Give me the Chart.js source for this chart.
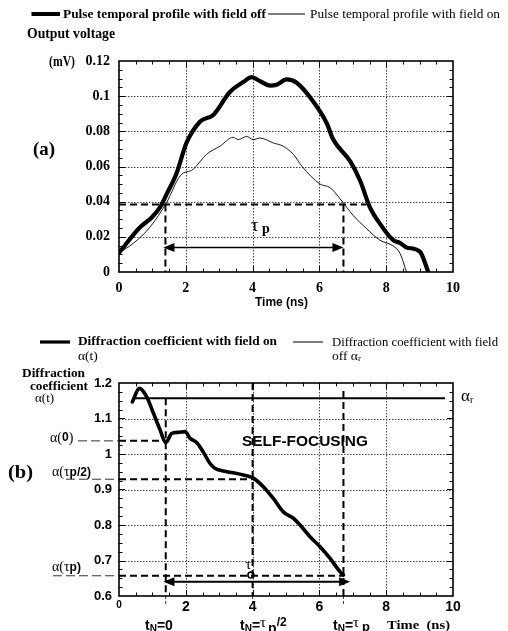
<!DOCTYPE html>
<html>
<head>
<meta charset="utf-8">
<script src="https://cdn.jsdelivr.net/npm/chart.js@4.4.1/dist/chart.umd.min.js"></script>
<style>
  html,body{margin:0;padding:0;background:#fff;}
  #wrap{position:relative;width:508px;height:631px;overflow:hidden;}
  canvas{position:absolute;left:0;}
</style>
</head>
<body>
<div id="wrap">
  <canvas id="cA" width="508" height="315" style="top:0"></canvas>
  <canvas id="cB" width="508" height="316" style="top:315px"></canvas>
</div>
<script>
// ---------------- DATA ----------------
// (a) Output voltage (mV) vs time (ns)
const timeFieldOff = [0,0.63,0.98,1.23,1.43,1.73,2.02,2.43,2.82,3.32,3.72,3.97,4.22,4.52,4.72,5.02,5.32,5.82,6.22,6.41,6.92,7.22,7.51,7.81,8.21,8.41,8.61,9.01,9.26];
const voltFieldOff = [0.011,0.0254,0.031,0.0369,0.0444,0.0565,0.0734,0.0856,0.0893,0.1024,0.108,0.1108,0.1086,0.106,0.1065,0.1095,0.1076,0.0968,0.0846,0.0755,0.063,0.0519,0.0369,0.0275,0.0181,0.0166,0.014,0.0116,0];
const timeFieldOn = [0,0.43,0.93,1.43,1.83,2.22,2.62,3.02,3.42,3.57,3.82,4.02,4.22,4.62,4.92,5.22,5.47,6.02,6.32,6.62,7.01,7.41,7.81,8.21,8.41,8.61];
const voltFieldOn = [0.011,0.0163,0.0256,0.0397,0.0547,0.0584,0.0669,0.0715,0.0766,0.0753,0.0771,0.0753,0.0762,0.0734,0.0715,0.0669,0.0603,0.05,0.048,0.0416,0.0322,0.0247,0.0181,0.0148,0.0107,0];
const pulseLevel = 0.0384;          // half-level dashed line
const pulseStart = 1.39, pulseEnd = 6.72, pulseLevelEnd = 7.41;
const pulseArrowLevel = 0.014;
const xTicksA = [0,2,4,6,8,10];
const yTicksA = [0,0.02,0.04,0.06,0.08,0.1,0.12];

// (b) Diffraction coefficient vs time (ns)
const timeAlpha = [0.40,0.61,0.83,1.03,1.23,1.40,1.58,1.78,1.98,2.13,2.33,2.52,2.72,2.87,3.12,3.42,3.72,3.92,4.02,4.32,4.62,4.92,5.22,5.42,5.72,6.02,6.32,6.62,6.72];
const alphaOn = [1.147,1.185,1.161,1.115,1.068,1.032,1.058,1.061,1.063,1.044,1.032,1.006,0.974,0.960,0.952,0.947,0.941,0.936,0.932,0.908,0.875,0.837,0.819,0.80,0.767,0.739,0.706,0.668,0.659];
const timeAlphaR = [0.43,9.76];
const alphaR = [1.157,1.157];
const tN0 = 1.40, tNhalf = 4.0, tNp = 6.72;
const alpha0 = 1.037, alphaHalf = 0.929, alphaP = 0.657;
const arrowB = {from:1.33, to:6.92, level:0.640};
const xTicksB = [0,2,4,6,8,10];
const yTicksB = [0.6,0.7,0.8,0.9,1,1.1,1.2];

// ---------------- HELPERS ----------------
const SERIF = '"Liberation Serif","Times New Roman",serif';
const SANS = '"Liberation Sans",Arial,sans-serif';
const pts = (xs, ys) => xs.map((x,i)=>({x, y:ys[i]}));

function txt(ctx, s, x, y, font, align, w) {
  ctx.save();
  ctx.font = font; ctx.fillStyle = '#000';
  ctx.textBaseline = 'middle'; ctx.textAlign = align || 'left';
  if (w) {
    const m = ctx.measureText(s).width;
    ctx.translate(x, y); ctx.scale(w/m, 1); ctx.fillText(s, 0, 0);
  } else ctx.fillText(s, x, y);
  ctx.restore();
}
function seq(ctx, x, y, parts) {
  ctx.save(); ctx.fillStyle='#000'; ctx.textBaseline='middle'; ctx.textAlign='left';
  let cx = x;
  for (const p of parts) { ctx.font = p.f; ctx.fillText(p.s, cx, y + (p.dy||0)); cx += ctx.measureText(p.s).width + (p.gap||0); }
  ctx.restore();
}
function line(ctx, x1, y1, x2, y2, w, dash) {
  ctx.save(); ctx.strokeStyle='#000'; ctx.lineWidth=w; ctx.setLineDash(dash||[]);
  ctx.beginPath(); ctx.moveTo(x1,y1); ctx.lineTo(x2,y2); ctx.stroke(); ctx.restore();
}
function arrowHead(ctx, x, y, dir) { // dir: +1 pointing right, -1 pointing left
  ctx.save(); ctx.fillStyle='#000'; ctx.beginPath();
  ctx.moveTo(x, y); ctx.lineTo(x - dir*11, y-4.5); ctx.lineTo(x - dir*11, y+4.5); ctx.closePath(); ctx.fill(); ctx.restore();
}
function frameAndGrid(chart, xMinor, yMinor) {
  const {ctx, chartArea:a, scales:{x, y}} = chart;
  ctx.save();
  // dotted grid
  ctx.strokeStyle = '#444'; ctx.lineWidth = 1; ctx.setLineDash([1.5,1.5]);
  x.ticks.forEach(t => { const px = Math.round(x.getPixelForValue(t.value))+0.5;
    if (px > a.left+2 && px < a.right-2) { ctx.beginPath(); ctx.moveTo(px,a.top); ctx.lineTo(px,a.bottom); ctx.stroke(); } });
  y.ticks.forEach(t => { const py = Math.round(y.getPixelForValue(t.value))+0.5;
    if (py > a.top+2 && py < a.bottom-2) { ctx.beginPath(); ctx.moveTo(a.left,py); ctx.lineTo(a.right,py); ctx.stroke(); } });
  ctx.setLineDash([]);
  // tick marks on all four sides (inward)
  ctx.strokeStyle = '#000'; ctx.lineWidth = 1;
  const nx = Math.round((x.max - x.min)/xMinor);
  for (let i=1;i<nx;i++) {
    const v = x.min + i*xMinor; const px = Math.round(x.getPixelForValue(v))+0.5;
    const L = (Math.abs(v/2 - Math.round(v/2))<1e-6) ? 6 : 3.5;
    ctx.beginPath(); ctx.moveTo(px,a.bottom); ctx.lineTo(px,a.bottom-L); ctx.moveTo(px,a.top); ctx.lineTo(px,a.top+L); ctx.stroke();
  }
  const ny = Math.round((y.max - y.min)/yMinor);
  for (let i=1;i<ny;i++) {
    const v = y.min + i*yMinor; const py = Math.round(y.getPixelForValue(v))+0.5;
    const L = (i % 4 === 0) ? 6 : 3.5;
    ctx.beginPath(); ctx.moveTo(a.left,py); ctx.lineTo(a.left+L,py); ctx.moveTo(a.right,py); ctx.lineTo(a.right-L,py); ctx.stroke();
  }
  // frame
  ctx.lineWidth = 1.6; ctx.strokeStyle = '#000';
  ctx.strokeRect(a.left, a.top, a.right-a.left, a.bottom-a.top);
  ctx.restore();
}

const baseOpts = (padTop, xHeight, yTickFont, xTickFont, yMin, yMax, yStep, yPad, xPad, fmt) => ({
  responsive:false, animation:false, devicePixelRatio:1,
  layout:{padding:{top:padTop, right:55, left:0, bottom:0}},
  plugins:{legend:{display:false}, tooltip:{enabled:false}},
  elements:{point:{radius:0}},
  scales:{
    x:{type:'linear', min:0, max:10,
       ticks:{stepSize:2, color:'#000', font:xTickFont, padding:xPad, maxRotation:0},
       grid:{display:false, drawTicks:false}, border:{display:false},
       afterFit:s=>{ s.height = xHeight; }},
    y:{type:'linear', min:yMin, max:yMax,
       ticks:{stepSize:yStep, color:'#000', font:yTickFont, padding:yPad, callback:fmt},
       grid:{display:false, drawTicks:false}, border:{display:false},
       afterFit:s=>{ s.width = 119; }}
  }
});

// ---------------- CHART (a) ----------------
const pluginA = {
  id:'decorA',
  beforeDatasetsDraw(chart){ frameAndGrid(chart, 0.5, 0.005); },
  afterDraw(chart){
    const {ctx, chartArea:a, scales:{x,y}} = chart;
    // legend
    line(ctx, 31.5, 14, 60, 14, 4);
    txt(ctx, 'Pulse temporal profile with field off', 63, 14.5, 'bold 13.5px '+SERIF, 'left', 203);
    line(ctx, 268, 14, 305, 14, 1);
    txt(ctx, 'Pulse temporal profile with field on', 310, 14.5, '13.5px '+SERIF, 'left', 190);
    txt(ctx, 'Output voltage', 27, 34, 'bold 14px '+SERIF, 'left', 88);
    txt(ctx, '(mV)', 49, 62, 'bold 14px '+SERIF, 'left', 26);
    txt(ctx, '(a)', 33, 150, 'bold 19px '+SERIF, 'left', 22);
    txt(ctx, 'Time (ns)', 255, 303, 'bold 12px '+SANS, 'left', 53);
    // pulse width markers
    const yl = y.getPixelForValue(pulseLevel);
    const x1 = x.getPixelForValue(pulseStart), x2 = x.getPixelForValue(pulseEnd);
    line(ctx, a.left, yl, x.getPixelForValue(pulseLevelEnd), yl, 2, [7,4]);
    line(ctx, x1, yl, x1, a.bottom, 2, [7,4]);
    line(ctx, x2, yl, x2, a.bottom, 2, [7,4]);
    const ya = y.getPixelForValue(pulseArrowLevel);
    line(ctx, x1+6, ya, x2-6, ya, 1.5);
    arrowHead(ctx, x1-2, ya, -1); arrowHead(ctx, x2, ya, 1);
    seq(ctx, x.getPixelForValue(3.95), y.getPixelForValue(0.026), [
      {s:'τ', f:'19px '+SERIF}, {s:' p', f:'bold 14px '+SERIF, dy:3}]);
  }
};

new Chart(document.getElementById('cA'), {
  type:'line',
  data:{datasets:[
    {data:pts(timeFieldOff, voltFieldOff), borderColor:'#000', borderWidth:4.2, cubicInterpolationMode:'monotone', borderJoinStyle:'round', borderCapStyle:'round'},
    {data:pts(timeFieldOn, voltFieldOn), borderColor:'#000', borderWidth:0.9, cubicInterpolationMode:'monotone'}
  ]},
  options: baseOpts(61, 43,
    {family:SERIF, weight:'bold', size:14},
    {family:SERIF, weight:'bold', size:14},
    0, 0.12, 0.02, 9, 8, v => String(Number(v.toFixed(2)))),
  plugins:[pluginA]
});

// ---------------- CHART (b) ----------------
const OFF = 315;
const pluginB = {
  id:'decorB',
  beforeDatasetsDraw(chart){ frameAndGrid(chart, 0.5, 0.025); },
  afterDraw(chart){
    const {ctx, chartArea:a, scales:{x,y}} = chart;
    // legend
    line(ctx, 40, 342-OFF, 70, 342-OFF, 3.2);
    txt(ctx, 'Diffraction coefficient with field on', 78, 342-OFF, 'bold 13.5px '+SERIF, 'left', 199);
    txt(ctx, 'α(t)', 78, 356-OFF, '13.5px '+SERIF, 'left');
    line(ctx, 293, 342-OFF, 323, 342-OFF, 1);
    txt(ctx, 'Diffraction coefficient with field', 332, 342-OFF, '13.5px '+SERIF, 'left', 166);
    seq(ctx, 332, 356-OFF, [{s:'off α', f:'13.5px '+SERIF}, {s:'r', f:'9px '+SERIF, dy:3}]);
    // y title
    txt(ctx, 'Diffraction', 22, 374-OFF, 'bold 12.5px '+SERIF, 'left', 63);
    txt(ctx, 'coefficient', 30, 386.5-OFF, 'bold 12.5px '+SERIF, 'left', 58);
    txt(ctx, 'α(t)', 35, 398.5-OFF, '13px '+SERIF, 'left');
    txt(ctx, '(b)', 8, 473-OFF, 'bold 19px '+SERIF, 'left', 25);
    seq(ctx, 461, 397-OFF, [{s:'α', f:'17px '+SERIF}, {s:'r', f:'10px '+SERIF, dy:3}]);

    // α level markers
    const ya0 = y.getPixelForValue(alpha0), yah = y.getPixelForValue(alphaHalf), yap = y.getPixelForValue(alphaP);
    const x0 = x.getPixelForValue(tN0), xh = x.getPixelForValue(tNhalf), xp = x.getPixelForValue(tNp);
    const yr = y.getPixelForValue(alphaR[0]);
    line(ctx, 78, ya0, a.left, ya0, 0.8, [9,4]);
    line(ctx, a.left, ya0, x0, ya0, 2, [7,4]);
    line(ctx, 66, yah, a.left, yah, 0.8, [9,4]);
    line(ctx, a.left, yah, xh, yah, 2, [7,4]);
    line(ctx, 53, yap, a.left, yap, 0.8, [9,4]);
    line(ctx, a.left, yap, xp, yap, 2, [7,4]);
    // vertical tN lines
    line(ctx, x0, yr, x0, a.bottom, 2, [7,4]);
    line(ctx, xh, a.top, xh, a.bottom, 2, [7,4]);
    line(ctx, xp, a.top+8, xp, a.bottom, 2, [7,4]);
    [x0, xh, xp].forEach(px => line(ctx, px, a.bottom, px, a.bottom+9, 0.8, [3,2]));
    // arrow
    const yA = y.getPixelForValue(arrowB.level);
    const xa1 = x.getPixelForValue(arrowB.from), xa2 = x.getPixelForValue(arrowB.to);
    line(ctx, xa1+6, yA, xa2-6, yA, 2);
    arrowHead(ctx, xa1, yA, -1); arrowHead(ctx, xa2, yA, 1);
    seq(ctx, x.getPixelForValue(3.78), y.getPixelForValue(0.687), [{s:'τ', f:'15px '+SERIF}]);
    ctx.save(); ctx.strokeStyle='#000'; ctx.lineWidth=1.6; ctx.beginPath();
    ctx.arc(x.getPixelForValue(3.95), y.getPixelForValue(0.659), 3, 0, Math.PI*2); ctx.stroke(); ctx.restore();

    // α labels
    seq(ctx, 50, 438-OFF, [{s:'α(', f:'14px '+SERIF}, {s:'0', f:'bold 12px '+SANS}, {s:')', f:'14px '+SERIF}]);
    seq(ctx, 52, 472-OFF, [{s:'α(', f:'14px '+SERIF}, {s:'τ', f:'14px '+SERIF}, {s:'p/2)', f:'bold 12px '+SANS, dy:1}]);
    seq(ctx, 52, 567-OFF, [{s:'α(', f:'14px '+SERIF}, {s:'τ', f:'14px '+SERIF}, {s:'p)', f:'bold 12px '+SANS, dy:1}]);
    // SELF-FOCUSING
    txt(ctx, 'SELF-FOCUSING', 242, 442-OFF, 'bold 15.5px '+SANS, 'left', 126);
    // bottom labels
    const B = 626-OFF;
    seq(ctx, 145, B, [{s:'t', f:'bold 14px '+SANS}, {s:'N', f:'bold 10px '+SANS, dy:3}, {s:'=0', f:'bold 14px '+SANS}]);
    seq(ctx, 240, B, [{s:'t', f:'bold 14px '+SANS}, {s:'N', f:'bold 10px '+SANS, dy:3}, {s:'=', f:'bold 14px '+SANS}, {s:'τ', f:'15px '+SERIF, dy:-3, gap:2}, {s:'p', f:'bold 14px '+SANS, dy:3}, {s:'/2', f:'bold 12px '+SANS, dy:-3}]);
    seq(ctx, 333, B, [{s:'t', f:'bold 14px '+SANS}, {s:'N', f:'bold 10px '+SANS, dy:3}, {s:'=', f:'bold 14px '+SANS}, {s:'τ', f:'15px '+SERIF, dy:-3, gap:3}, {s:'p', f:'bold 13px '+SANS, dy:1}]);
    txt(ctx, 'Time  (ns)', 387, B, 'bold 13px '+SERIF, 'left', 63);
  }
};

new Chart(document.getElementById('cB'), {
  type:'line',
  data:{datasets:[
    {data:pts(timeAlpha, alphaOn), borderColor:'#000', borderWidth:3.6, cubicInterpolationMode:'monotone', borderJoinStyle:'round', borderCapStyle:'round'},
    {data:pts(timeAlphaR, alphaR), borderColor:'#000', borderWidth:2.2}
  ]},
  options: baseOpts(68, 35,
    {family:SANS, weight:'bold', size:13},
    ctx => ctx.tick && ctx.tick.value === 0 ? {family:SANS, weight:'bold', size:10} : {family:SANS, weight:'bold', size:14},
    0.6, 1.2, 0.1, 7, 3, v => String(Number(v.toFixed(1)))),
  plugins:[pluginB]
});
</script>
</body>
</html>
